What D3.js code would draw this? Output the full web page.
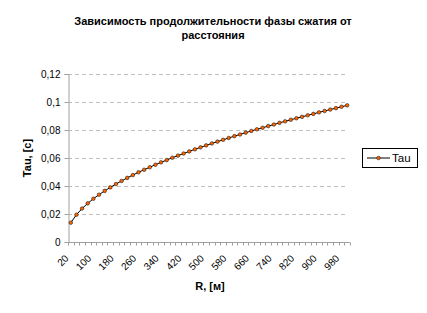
<!DOCTYPE html>
<html>
<head>
<meta charset="utf-8">
<script src="https://cdn.jsdelivr.net/npm/d3@7"></script>
<style>
  body { margin: 0; background: #fff; }
  svg { font-family: "Liberation Sans", Arial, sans-serif; }
</style>
</head>
<body>
<div class="chart"></div>
<script>
const width = 427;
const height = 313;

// R, [м] — categories
const R = [20, 40, 60, 80, 100, 120, 140, 160, 180, 200,
  220, 240, 260, 280, 300, 320, 340, 360, 380, 400,
  420, 440, 460, 480, 500, 520, 540, 560, 580, 600,
  620, 640, 660, 680, 700, 720, 740, 760, 780, 800,
  820, 840, 860, 880, 900, 920, 940, 960, 980, 1000];

// Tau, [c]
const tau = [0.0138, 0.0195, 0.0239, 0.0276, 0.0309, 0.0338, 0.0365, 0.0390, 0.0414, 0.0436,
  0.0458, 0.0478, 0.0498, 0.0516, 0.0534, 0.0552, 0.0569, 0.0585, 0.0602, 0.0617,
  0.0632, 0.0647, 0.0662, 0.0676, 0.0690, 0.0704, 0.0717, 0.0730, 0.0743, 0.0756,
  0.0768, 0.0781, 0.0793, 0.0805, 0.0816, 0.0828, 0.0839, 0.0851, 0.0862, 0.0873,
  0.0884, 0.0894, 0.0905, 0.0915, 0.0926, 0.0936, 0.0946, 0.0956, 0.0966, 0.0976];

const yTicks = [0, 0.02, 0.04, 0.06, 0.08, 0.1, 0.12];
const xLabelStep = 4;

const title = ["Зависимость продолжительности фазы сжатия от", "расстояния"];
const seriesName = "Tau";

const plot = { left: 68, right: 350, top: 74, bottom: 242 };

const svg = d3.select(".chart").append("svg").attr("width", width).attr("height", height);

const x = d3.scaleBand().domain(R).range([plot.left, plot.right]);
const y = d3.scaleLinear().domain([0, 0.12]).range([plot.bottom, plot.top]);

const fmt = v => String(+v.toFixed(2)).replace(".", ",");

// title
svg.append("g").selectAll("text").data(title).enter().append("text")
  .attr("x", 213).attr("y", (d, i) => 25 + i * 14)
  .attr("text-anchor", "middle").attr("font-size", 11).attr("font-weight", "bold")
  .text(d => d);

// gridlines
svg.append("g").selectAll("line").data(yTicks.filter(d => d > 0)).enter().append("line")
  .attr("x1", plot.left).attr("x2", plot.right - 3)
  .attr("y1", d => Math.round(y(d)) + 0.5).attr("y2", d => Math.round(y(d)) + 0.5)
  .attr("stroke", "#c0c0c0").attr("stroke-dasharray", "4,3");

// y axis
const yAxis = svg.append("g").attr("transform", `translate(${plot.left + 0.5},0)`)
  .call(d3.axisLeft(y).tickValues(yTicks).tickFormat(fmt).tickSize(4).tickPadding(4));
yAxis.select(".domain").attr("stroke", "#a0a0a0");
yAxis.selectAll(".tick line").attr("stroke", "#a0a0a0");
yAxis.selectAll("text").attr("font-size", 10).attr("font-family", "Liberation Sans, Arial").attr("fill", "#000");

// x axis: ticks at category boundaries
const xg = svg.append("g").attr("transform", `translate(0,${Math.round(plot.bottom) + 0.5})`);
xg.append("line").attr("x1", plot.left).attr("x2", plot.right).attr("stroke", "#a0a0a0");
xg.selectAll("line.tk").data(R.concat([null])).enter().append("line").attr("class", "tk")
  .attr("x1", (d, i) => Math.round(plot.left + i * x.step()) + 0.5)
  .attr("x2", (d, i) => Math.round(plot.left + i * x.step()) + 0.5)
  .attr("y1", 0).attr("y2", 3).attr("stroke", "#a0a0a0");
xg.selectAll("text").data(R.filter((d, i) => i % xLabelStep === 0)).enter().append("text")
  .attr("transform", d => `translate(${x(d) + x.bandwidth() / 2 - 4},${14}) rotate(-45)`)
  .attr("text-anchor", "end").attr("dy", "0.35em").attr("font-size", 10)
  .text(d => d);

// axis titles
svg.append("text").attr("transform", `translate(31,${(plot.top + plot.bottom) / 2}) rotate(-90)`)
  .attr("text-anchor", "middle").attr("font-size", 11).attr("font-weight", "bold").text("Tau, [c]");
svg.append("text").attr("x", 210).attr("y", 290)
  .attr("text-anchor", "middle").attr("font-size", 11).attr("font-weight", "bold").text("R, [м]");

// series
const line = d3.line().x((d, i) => x(R[i]) + x.bandwidth() / 2).y(d => y(d));
svg.append("path").datum(tau).attr("d", line).attr("fill", "none").attr("stroke", "#000").attr("stroke-width", 1);
svg.append("g").selectAll("circle").data(tau).enter().append("circle")
  .attr("cx", (d, i) => x(R[i]) + x.bandwidth() / 2).attr("cy", d => y(d))
  .attr("r", 1.8).attr("fill", "#ff6600").attr("stroke", "#000").attr("stroke-width", 0.5);

// legend
const lg = svg.append("g");
lg.append("rect").attr("x", 362.5).attr("y", 148.5).attr("width", 55).attr("height", 19)
  .attr("fill", "#fff").attr("stroke", "#000");
lg.append("line").attr("x1", 367).attr("x2", 390).attr("y1", 158).attr("y2", 158).attr("stroke", "#000");
lg.append("circle").attr("cx", 378.5).attr("cy", 158).attr("r", 1.8).attr("fill", "#ff6600").attr("stroke", "#000").attr("stroke-width", 0.5);
lg.append("text").attr("x", 392).attr("y", 162).attr("font-size", 11.5).text(seriesName);
</script>
</body>
</html>
